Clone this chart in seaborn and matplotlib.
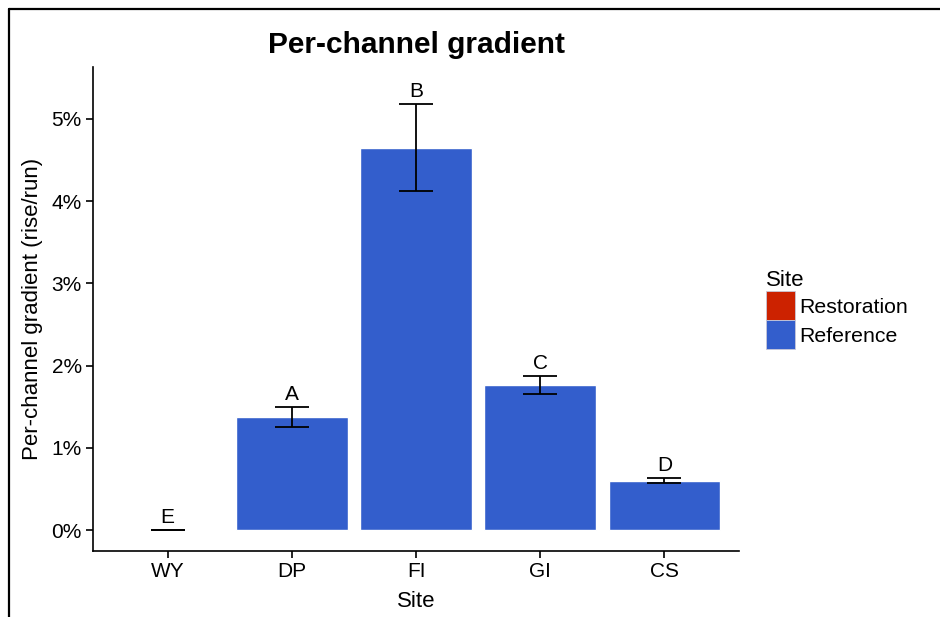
import numpy as np
import pandas as pd
import matplotlib
matplotlib.use("Agg")
import matplotlib.pyplot as plt
from matplotlib.patches import Patch
from matplotlib.lines import Line2D
from matplotlib.ticker import FuncFormatter
import seaborn as sns

# Per-channel gradient by site (percent rise/run)
sites = ["WY", "DP", "FI", "GI", "CS"]
site_type = ["Reference", "Reference", "Reference", "Reference", "Reference"]
gradient = [0.0, 1.37, 4.64, 1.76, 0.60]
err_low = [0.0, 1.25, 4.12, 1.65, 0.57]
err_high = [0.0, 1.49, 5.18, 1.87, 0.63]
letters = ["E", "A", "B", "C", "D"]
type_levels = ["Restoration", "Reference"]
type_colors = {"Restoration": "#CC2200", "Reference": "#335ECC"}

df = pd.DataFrame({"Site": sites, "Type": site_type, "Gradient": gradient,
                   "Low": err_low, "High": err_high, "Letter": letters})

sns.set_style("white")
plt.rcParams["font.family"] = ["Liberation Sans", "DejaVu Sans"]
plt.rcParams["text.color"] = "black"
plt.rcParams["axes.labelcolor"] = "black"

fig = plt.figure(figsize=(9.4, 6.17), dpi=100)
ax = fig.add_axes([93 / 940, 1 - 551 / 617, (739 - 93) / 940, (551 - 67) / 617])

sns.barplot(data=df, x="Site", y="Gradient", hue="Type", hue_order=type_levels,
            palette=type_colors, order=sites, dodge=False, width=0.9,
            errorbar=None, legend=False, ax=ax, saturation=1)

xpos = np.arange(len(sites))
yerr = [df["Gradient"] - df["Low"], df["High"] - df["Gradient"]]
ax.errorbar(xpos, df["Gradient"], yerr=yerr, fmt="none", ecolor="black",
            elinewidth=1.3, capsize=12.5, capthick=1.3)

for x, hi, lab in zip(xpos, df["High"], df["Letter"]):
    ax.text(x, hi + 0.04, lab, ha="center", va="bottom", fontsize=15, color="black")

ax.set_xlim(-0.6, 4.6)
ax.set_ylim(-0.255, 5.63)
ax.set_yticks([0, 1, 2, 3, 4, 5])
ax.yaxis.set_major_formatter(FuncFormatter(lambda v, p: f"{v:.0f}%"))
ax.tick_params(axis="both", which="both", length=5, width=1.2, color="black",
               labelsize=15, labelcolor="black", left=True, bottom=True, pad=3)
for side in ["top", "right"]:
    ax.spines[side].set_visible(False)
for side in ["left", "bottom"]:
    ax.spines[side].set_color("black")
    ax.spines[side].set_linewidth(1.2)

ax.set_xlabel("Site", fontsize=16, labelpad=7, color="black")
ax.set_ylabel("Per-channel gradient (rise/run)", fontsize=16, labelpad=6, color="black")

fig.text(416 / 940, 1 - 45 / 617, "Per-channel gradient", ha="center", va="center",
         fontsize=21.5, fontweight="bold", color="black")

handles = [Patch(facecolor=type_colors[t], edgecolor="#C8C8D8", linewidth=0.6)
           for t in type_levels]
leg = fig.legend(handles, type_levels, title="Site", loc="upper left",
                 bbox_to_anchor=(757 / 940, 1 - 262 / 617), frameon=False,
                 fontsize=15.3, title_fontsize=16, handlelength=1.4, handleheight=1.72,
                 handletextpad=0.2, labelspacing=0.0, borderaxespad=0)
leg._legend_box.align = "left"
leg.get_title().set_color("black")
for t in leg.get_texts():
    t.set_color("black")

# Frame lines along the left and top edges
fig.add_artist(Line2D([9 / 940, 9 / 940], [0, 1 - 9 / 617], transform=fig.transFigure,
                      color="black", linewidth=1.6))
fig.add_artist(Line2D([9 / 940, 1], [1 - 9 / 617, 1 - 9 / 617], transform=fig.transFigure,
                      color="black", linewidth=1.6))

fig.savefig("out.png", dpi=100)
